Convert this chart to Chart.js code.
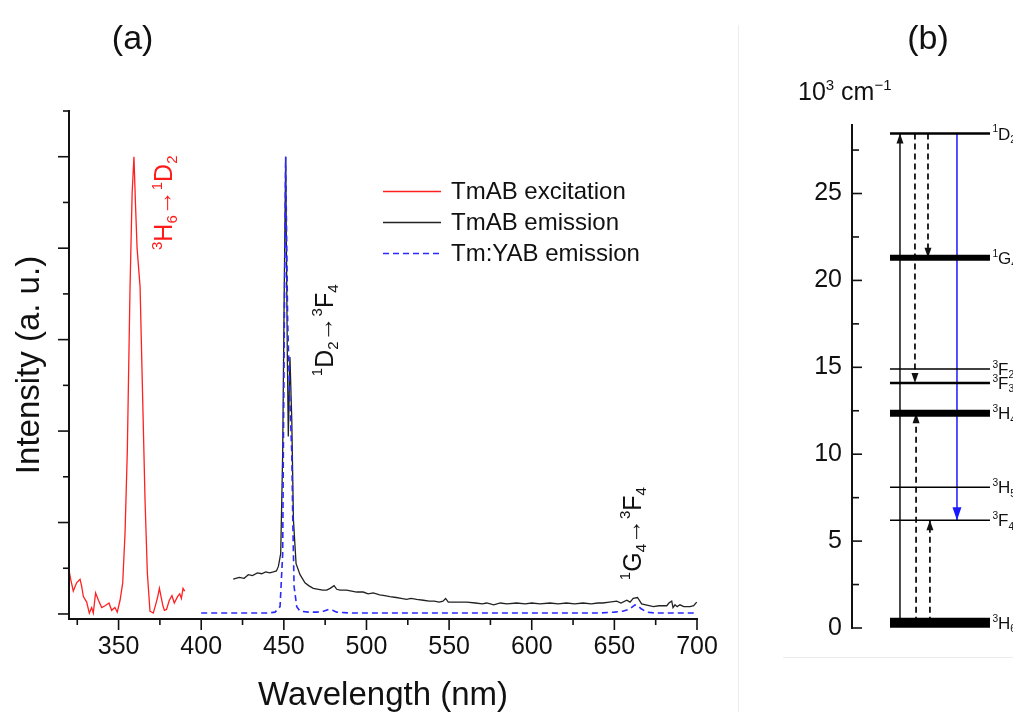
<!DOCTYPE html>
<html>
<head>
<meta charset="utf-8">
<script src="https://cdn.jsdelivr.net/npm/chart.js@4.4.1/dist/chart.umd.min.js"></script>
<style>
  html, body { margin: 0; padding: 0; background: #fff; }
  #wrap { position: relative; width: 1013px; height: 712px; overflow: hidden; }
  #chartA { position: absolute; left: 0; top: 0; }
  #chartB { position: absolute; left: 736px; top: 0; }
</style>
</head>
<body>
<div id="wrap">
  <canvas id="chartA" width="736" height="712"></canvas>
  <canvas id="chartB" width="277" height="712"></canvas>
</div>
<script>
var FONT = "'Liberation Sans', Arial, sans-serif";
var INK = '#111';

// ---- panel (a): spectra ----
var excWavelength = [320, 321, 322.6, 324.6, 326.7, 327.7, 328.7, 330.7, 332.3, 333.7, 334.7, 336.1, 337.8, 339.8, 341.8, 344.2, 345.8, 347.8, 349.2, 350.9, 352.5, 353.9, 355.3, 356.9, 358.2, 359.3, 360.2, 361.2, 363, 364.6, 366, 367.4, 369, 371, 372.4, 373.7, 374.7, 375.7, 376.7, 377.7, 379, 380.7, 382.3, 383.7, 385.7, 387, 388, 389, 390];
var excIntensity = [0.48, 0.38, 0.25, 0.34, 0.38, 0.30, 0.19, 0.13, 0.01, 0.07, 0.01, 0.23, 0.15, 0.07, 0.09, 0.12, 0.04, 0.07, 0.02, 0.15, 0.34, 0.88, 1.79, 3.54, 4.6, 5.0, 4.5, 4.0, 3.58, 2.34, 1.25, 0.45, 0.03, 0.01, 0.10, 0.19, 0.28, 0.19, 0.10, 0.04, 0.05, 0.15, 0.20, 0.12, 0.19, 0.22, 0.17, 0.28, 0.25];

var emWavelength = [419.4, 423, 426, 428.5, 431, 434, 436.6, 439, 441.5, 443.6, 445.5, 446.7, 448.1, 449.3, 450.1, 451.1, 452.1, 452.7, 453.7, 454.8, 455.8, 457.4, 459.8, 462.8, 465, 467.8, 471, 473.5, 475.9, 478, 480.4, 482, 484, 488, 491, 494.1, 498, 501, 504.1, 508, 511, 514.2, 518, 521, 524.3, 527, 530.4, 534.4, 538, 541, 544, 546.3, 547.9, 549.5, 554.6, 560.7, 566, 570, 572.8, 577, 581, 585, 590.9, 596, 600, 605, 611, 616, 621, 626, 631, 636, 640, 643, 647, 651.4, 654, 657.5, 659.5, 661.4, 664, 666.5, 669, 673.6, 677, 681.7, 683, 684.7, 685.5, 686.7, 688, 689.7, 692, 695.8, 698, 699.8];
var emIntensity = [0.38, 0.40, 0.39, 0.43, 0.42, 0.45, 0.44, 0.46, 0.45, 0.46, 0.47, 0.52, 0.66, 1.76, 3.29, 5.0, 2.85, 1.94, 2.81, 2.12, 1.03, 0.55, 0.43, 0.34, 0.31, 0.28, 0.27, 0.26, 0.26, 0.28, 0.31, 0.27, 0.26, 0.26, 0.25, 0.24, 0.24, 0.22, 0.23, 0.21, 0.20, 0.19, 0.18, 0.17, 0.16, 0.17, 0.16, 0.15, 0.14, 0.14, 0.13, 0.14, 0.17, 0.13, 0.13, 0.13, 0.12, 0.11, 0.12, 0.10, 0.12, 0.11, 0.12, 0.11, 0.12, 0.11, 0.12, 0.11, 0.12, 0.11, 0.12, 0.11, 0.12, 0.12, 0.13, 0.14, 0.12, 0.15, 0.13, 0.17, 0.18, 0.11, 0.10, 0.08, 0.09, 0.09, 0.12, 0.14, 0.07, 0.10, 0.08, 0.10, 0.08, 0.08, 0.09, 0.13];

var yabWavelength = [400, 420, 440, 444.7, 447.7, 449.3, 449.7, 450.3, 451.1, 452.3, 453.7, 454.8, 455.4, 456.2, 457.8, 459.8, 465, 470, 474, 477, 479.5, 482, 490, 550, 600, 640, 650, 655, 659, 662.5, 664, 666, 669.6, 675, 700];
var yabIntensity = [0.01, 0.01, 0.01, 0.02, 0.08, 0.66, 1.76, 3.21, 5.0, 3.2, 2.30, 1.76, 1.03, 0.30, 0.08, 0.03, 0.02, 0.02, 0.03, 0.05, 0.04, 0.02, 0.01, 0.01, 0.01, 0.01, 0.02, 0.03, 0.05, 0.10, 0.09, 0.06, 0.02, 0.01, 0.01];

var seriesLabels = ['TmAB excitation', 'TmAB emission', 'Tm:YAB emission'];
var xTickValues = [350, 400, 450, 500, 550, 600, 650, 700];

// transitions written on panel (a): text, wavelength, intensity where text starts
var noteText = ['^3H_6→^1D_2', '^1D_2→^3F_4', '^1G_4→^3F_4'];
var noteWavelength = [382.5, 479.5, 666];
var noteIntensity = [3.98, 2.6, 0.37];

// ---- panel (b): Tm3+ energy levels, 10^3 cm^-1 ----
var levelNames = ['^1D_2', '^1G_4', '^3F_2', '^3F_3', '^3H_4', '^3H_5', '^3F_4', '^3H_6'];
var levelEnergy = [28.45, 21.3, 14.9, 14.1, 12.35, 8.1, 6.2, 0.3];
var yTickValuesB = [0, 5, 10, 15, 20, 25];

// arrows: from level index -> to level index, drawn in column slots
var arrowFrom = [7, 0, 0, 0, 7, 7];
var arrowTo   = [0, 3, 1, 6, 4, 6];
var arrowSlot = [2.98, 3.91, 4.72, 6.52, 3.98, 4.84];
var arrowKind = ['solid', 'dash', 'dash', 'blue', 'dash', 'dash'];

function pts(xs, ys) {
  return xs.map(function (x, i) { return { x: x, y: ys[i] }; });
}

function parseRich(str) {
  var parts = [];
  for (var i = 0; i < str.length; i++) {
    var c = str[i];
    if (c === '^') parts.push({ t: str[++i], k: 'sup' });
    else if (c === '_') parts.push({ t: str[++i], k: 'sub' });
    else parts.push({ t: c, k: 'n' });
  }
  return parts;
}

function drawRich(ctx, str, x, y, size, color, vertical) {
  ctx.save();
  ctx.translate(x, y);
  if (vertical) ctx.rotate(-Math.PI / 2);
  ctx.fillStyle = color;
  ctx.textBaseline = 'alphabetic';
  ctx.textAlign = 'left';
  var cx = 0;
  parseRich(str).forEach(function (p) {
    var fs = size, dy = 0;
    if (p.k === 'sup') { fs = size * 0.6; dy = -size * 0.42; }
    else if (p.k === 'sub') { fs = size * 0.6; dy = size * 0.2; }
    ctx.font = fs + 'px ' + FONT;
    ctx.fillText(p.t, cx, dy);
    cx += ctx.measureText(p.t).width;
  });
  ctx.restore();
}

function line(ctx, x1, y1, x2, y2) {
  ctx.beginPath();
  ctx.moveTo(x1, y1);
  ctx.lineTo(x2, y2);
  ctx.stroke();
}

var panelA = {
  id: 'panelA',
  afterDraw: function (chart) {
    var ctx = chart.ctx, xs = chart.scales.x, ys = chart.scales.y;
    var area = chart.chartArea;
    ctx.save();
    ctx.strokeStyle = INK;
    ctx.lineWidth = 2;
    var top = ys.getPixelForValue(5.5);
    line(ctx, area.left, top - 1, area.left, area.bottom + 1);
    line(ctx, area.left - 1, area.bottom, area.right + 1, area.bottom);
    ctx.lineWidth = 1.6;
    for (var v = 0; v <= 5.5; v += 0.5) {
      var py = ys.getPixelForValue(v);
      var len = (v % 1 === 0) ? 11 : 6;
      line(ctx, area.left, py, area.left - len, py);
    }
    for (var w = 325; w <= 700; w += 25) {
      var px = xs.getPixelForValue(w);
      var l2 = (w % 50 === 0) ? 11 : 6;
      line(ctx, px, area.bottom, px, area.bottom + l2);
    }

    // legend
    var ds = chart.data.datasets;
    ctx.font = '24px ' + FONT;
    ctx.textBaseline = 'middle';
    ctx.textAlign = 'left';
    var lx = xs.getPixelForValue(510);
    for (var i = 0; i < ds.length; i++) {
      var ly = ys.getPixelForValue(4.62) + i * 31;
      ctx.strokeStyle = ds[i].borderColor;
      ctx.lineWidth = 1.5;
      ctx.setLineDash(ds[i].borderDash || []);
      line(ctx, lx, ly, lx + 58, ly);
      ctx.setLineDash([]);
      ctx.fillStyle = INK;
      ctx.fillText(ds[i].label, lx + 68, ly + 1);
    }

    // transition notes
    for (var k = 0; k < noteText.length; k++) {
      drawRich(ctx, noteText[k], xs.getPixelForValue(noteWavelength[k]), ys.getPixelForValue(noteIntensity[k]),
        25, k === 0 ? '#ff1a1a' : INK, true);
    }

    ctx.font = '34px ' + FONT;
    ctx.fillStyle = INK;
    ctx.textAlign = 'center';
    ctx.textBaseline = 'middle';
    ctx.fillText('(a)', xs.getPixelForValue(358.5), 40);
    ctx.restore();
  }
};

var chartA = new Chart(document.getElementById('chartA'), {
  type: 'line',
  data: {
    datasets: [{
      label: seriesLabels[0],
      data: pts(excWavelength, excIntensity),
      borderColor: '#ff2020',
      borderWidth: 1.3,
      order: 2
    }, {
      label: seriesLabels[1],
      data: pts(emWavelength, emIntensity),
      borderColor: '#222222',
      borderWidth: 1.3,
      order: 1
    }, {
      label: seriesLabels[2],
      data: pts(yabWavelength, yabIntensity),
      borderColor: '#2a2aff',
      borderWidth: 1.6,
      borderDash: [6, 4],
      order: 0
    }]
  },
  options: {
    responsive: false,
    animation: false,
    events: [],
    layout: { padding: { top: 111, right: 39, left: 0, bottom: 0 } },
    elements: { point: { radius: 0 }, line: { tension: 0 } },
    plugins: { legend: { display: false }, tooltip: { enabled: false } },
    scales: {
      x: {
        type: 'linear', min: 320, max: 700,
        afterBuildTicks: function (s) { s.ticks = xTickValues.map(function (v) { return { value: v }; }); },
        afterFit: function (s) { s.height = 93; },
        grid: { display: false, drawTicks: false },
        border: { display: false },
        ticks: { font: { family: FONT, size: 25 }, color: INK, padding: 13, maxRotation: 0, autoSkip: false },
        title: { display: true, text: 'Wavelength (nm)', color: INK, font: { family: FONT, size: 33, lineHeight: 1.0 }, padding: { top: 0, bottom: 0 } }
      },
      y: {
        type: 'linear', min: -0.055, max: 5.5,
        afterFit: function (s) { s.width = 69; },
        grid: { display: false, drawTicks: false },
        border: { display: false },
        ticks: { display: false },
        title: { display: true, text: 'Intensity (a. u.)', color: INK, font: { family: FONT, size: 33, lineHeight: 1.0 }, padding: { top: 13, bottom: 0 } }
      }
    }
  },
  plugins: [panelA]
});

// ---- panel (b) ----
function arrowColor(k) { return k === 'blue' ? '#1a1aff' : INK; }

var bDatasets = [];
levelNames.forEach(function (n, i) {
  var thick = { '^1D_2': 2.5, '^1G_4': 6, '^3F_3': 2.5, '^3H_4': 7, '^3H_6': 10 }[n] || 1.5;
  bDatasets.push({
    label: n,
    data: [{ x: 2.36, y: levelEnergy[i] }, { x: 8.57, y: levelEnergy[i] }],
    borderColor: '#000',
    borderWidth: thick,
    borderCapStyle: 'butt',
    clip: false
  });
});
arrowFrom.forEach(function (f, i) {
  bDatasets.push({
    label: 'arrow' + i,
    data: [{ x: arrowSlot[i], y: levelEnergy[f] }, { x: arrowSlot[i], y: levelEnergy[arrowTo[i]] }],
    borderColor: arrowColor(arrowKind[i]),
    borderWidth: arrowKind[i] === 'dash' ? 1.8 : 1.5,
    borderDash: arrowKind[i] === 'dash' ? [6, 4] : [],
    clip: false
  });
});

var panelB = {
  id: 'panelB',
  beforeDraw: function (chart) {
    var ctx = chart.ctx;
    ctx.save();
    ctx.strokeStyle = '#ececec';
    ctx.lineWidth = 1;
    line(ctx, 2.5, 25, 2.5, 712);
    line(ctx, 47, 657.5, 277, 657.5);
    ctx.restore();
  },
  beforeDatasetsDraw: function (chart) {
    var ctx = chart.ctx, xs = chart.scales.x, ys = chart.scales.y;
    ctx.save();
    for (var i = 0; i < arrowFrom.length; i++) {
      var px = xs.getPixelForValue(arrowSlot[i]);
      var tip = ys.getPixelForValue(levelEnergy[arrowTo[i]]);
      var up = levelEnergy[arrowTo[i]] > levelEnergy[arrowFrom[i]];
      var big = arrowKind[i] === 'blue';
      var h = big ? 13 : 10, hw = big ? 4.5 : 3.5;
      var base = up ? tip + h : tip - h;
      ctx.fillStyle = arrowColor(arrowKind[i]);
      ctx.beginPath();
      ctx.moveTo(px, tip);
      ctx.lineTo(px - hw, base);
      ctx.lineTo(px + hw, base);
      ctx.closePath();
      ctx.fill();
    }
    ctx.restore();
  },
  afterDraw: function (chart) {
    var ctx = chart.ctx, xs = chart.scales.x, ys = chart.scales.y;
    var area = chart.chartArea;
    ctx.save();
    ctx.strokeStyle = INK;
    ctx.lineWidth = 2;
    line(ctx, area.left, area.top, area.left, area.bottom + 1);
    ctx.lineWidth = 1.6;
    for (var v = 0; v <= 27.5; v += 2.5) {
      var py = ys.getPixelForValue(v);
      line(ctx, area.left, py, area.left + (v % 5 === 0 ? 10 : 7), py);
    }
    // level labels
    var lx = xs.getPixelForValue(8.72);
    for (var i = 0; i < levelNames.length; i++) {
      drawRich(ctx, levelNames[i], lx, ys.getPixelForValue(levelEnergy[i]) + 6, 17, INK, false);
    }
    drawRich(ctx, '10^3 cm^−^1', 62, 100, 25, INK, false);
    ctx.font = '34px ' + FONT;
    ctx.fillStyle = INK;
    ctx.textAlign = 'center';
    ctx.textBaseline = 'middle';
    ctx.fillText('(b)', 192, 40);
    ctx.restore();
  }
};

var chartB = new Chart(document.getElementById('chartB'), {
  type: 'line',
  data: { datasets: bDatasets },
  options: {
    responsive: false,
    animation: false,
    events: [],
    layout: { padding: { top: 124, right: 0, left: 0, bottom: 84 } },
    elements: { point: { radius: 0 }, line: { tension: 0 } },
    plugins: { legend: { display: false }, tooltip: { enabled: false } },
    scales: {
      x: { type: 'linear', min: 0, max: 10, display: false },
      y: {
        type: 'linear', min: 0, max: 29,
        afterBuildTicks: function (s) { s.ticks = yTickValuesB.map(function (v) { return { value: v }; }); },
        afterFit: function (s) { s.width = 116; },
        grid: { display: false, drawTicks: false },
        border: { display: false },
        ticks: { font: { family: FONT, size: 25 }, color: INK, padding: 10 }
      }
    }
  },
  plugins: [panelB]
});
</script>
</body>
</html>
